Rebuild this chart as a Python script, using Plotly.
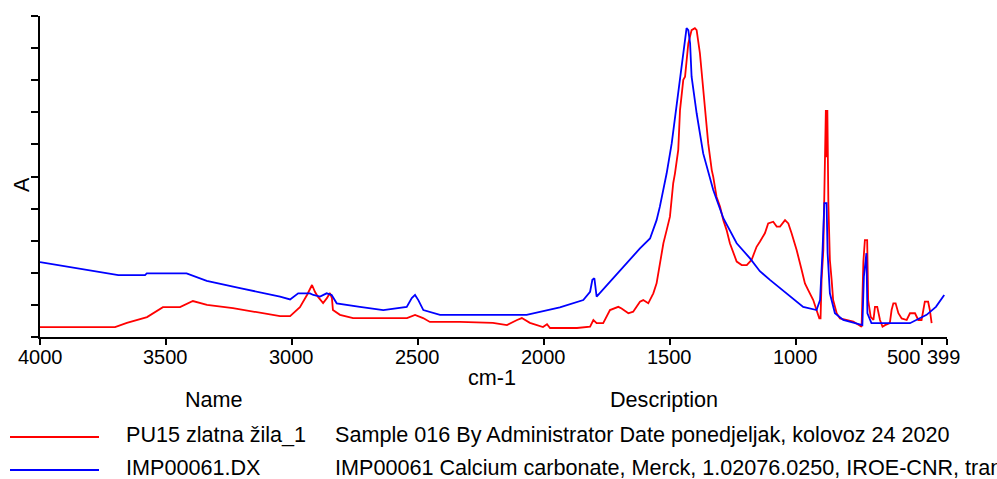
import plotly.graph_objects as go

# PU15 zlatna žila_1 — sample spectrum (wavenumber cm-1, absorbance, arbitrary units)
red_wn = [4000, 3702, 3655, 3575, 3512, 3444, 3393, 3337, 3234, 3127, 3047, 3007,
          2968, 2940, 2920, 2908, 2896, 2876, 2861, 2849, 2841, 2837, 2809, 2757,
          2543, 2511, 2479, 2452, 2333, 2202, 2146, 2106, 2087, 2055, 2003, 1987,
          1975, 1868, 1816, 1803, 1790, 1764, 1750, 1737, 1704, 1691, 1664, 1645,
          1618, 1605, 1585, 1565, 1552, 1545, 1532, 1525, 1512, 1499, 1486, 1479,
          1466, 1459, 1446, 1439, 1426, 1413, 1400, 1393, 1380, 1367, 1360, 1347,
          1333, 1327, 1314, 1300, 1287, 1274, 1261, 1248, 1234, 1214, 1194, 1175,
          1155, 1142, 1122, 1109, 1089, 1075, 1062, 1042, 1029, 1016, 996, 976,
          963, 950, 930, 917, 906, 901, 897, 890, 886, 880, 877, 874, 870, 864, 857,
          851, 837, 824, 771, 751, 738, 731, 725, 716, 712, 702, 691, 685, 676,
          665, 655, 645, 626, 619, 612, 603, 592, 579, 559, 546, 526, 513, 500,
          487, 474, 467, 460]
red_abs = [0.031, 0.031, 0.044, 0.062, 0.093, 0.093, 0.112, 0.100, 0.090, 0.075, 0.065, 0.065,
           0.093, 0.131, 0.162, 0.140, 0.125, 0.106, 0.121, 0.137, 0.121, 0.084, 0.069, 0.059,
           0.059, 0.069, 0.059, 0.047, 0.047, 0.044, 0.037, 0.053, 0.059, 0.044, 0.031, 0.040,
           0.028, 0.028, 0.032, 0.053, 0.043, 0.043, 0.063, 0.084, 0.094, 0.089, 0.074, 0.079,
           0.110, 0.115, 0.105, 0.136, 0.167, 0.198, 0.250, 0.292, 0.333, 0.375, 0.479, 0.510,
           0.583, 0.707, 0.801, 0.811, 0.915, 0.956, 0.962, 0.956, 0.884, 0.780, 0.707, 0.603,
           0.520, 0.499, 0.437, 0.406, 0.364, 0.333, 0.292, 0.261, 0.235, 0.224, 0.224, 0.240,
           0.281, 0.297, 0.323, 0.354, 0.359, 0.344, 0.344, 0.364, 0.354, 0.323, 0.271, 0.209,
           0.167, 0.146, 0.115, 0.084, 0.058, 0.058, 0.178, 0.271, 0.499, 0.707, 0.560, 0.707, 0.417,
           0.240, 0.178, 0.115, 0.074, 0.058, 0.048, 0.037, 0.032, 0.235, 0.302, 0.302, 0.115,
           0.063, 0.053, 0.094, 0.094, 0.053, 0.032, 0.037, 0.043, 0.084, 0.105, 0.105, 0.074,
           0.058, 0.053, 0.074, 0.074, 0.053, 0.053, 0.110, 0.110, 0.084, 0.043]

# IMP00061.DX — calcium carbonate reference spectrum
blue_wn = [4000, 3868, 3689, 3583, 3576, 3418, 3338, 3206, 3047, 3007, 2975, 2928,
           2915, 2888, 2862, 2842, 2822, 2730, 2637, 2544, 2524, 2511, 2498, 2478,
           2412, 2068, 1988, 1936, 1843, 1816, 1807, 1799, 1790, 1737, 1671, 1618,
           1578, 1552, 1539, 1512, 1492, 1472, 1459, 1446, 1433, 1426, 1419, 1413,
           1406, 1393, 1367, 1327, 1287, 1234, 1181, 1142, 1102, 1036, 970, 917,
           903, 893, 886, 877, 873, 864, 844, 811, 745, 735, 729, 719, 715, 699,
           546, 480, 443, 410]
blue_abs = [0.233, 0.217, 0.193, 0.193, 0.198, 0.198, 0.175, 0.152, 0.126, 0.117, 0.136, 0.136,
            0.131, 0.126, 0.136, 0.131, 0.105, 0.094, 0.084, 0.094, 0.121, 0.131, 0.115, 0.084,
            0.069, 0.069, 0.084, 0.092, 0.115, 0.141, 0.178, 0.183, 0.126, 0.172, 0.229, 0.276,
            0.307, 0.364, 0.406, 0.510, 0.603, 0.728, 0.811, 0.894, 0.962, 0.956, 0.915, 0.811,
            0.769, 0.697, 0.572, 0.458, 0.370, 0.292, 0.245, 0.205, 0.178, 0.136, 0.094, 0.084,
            0.115, 0.271, 0.417, 0.417, 0.261, 0.136, 0.074, 0.053, 0.037, 0.037, 0.188, 0.261,
            0.074, 0.043, 0.043, 0.069, 0.094, 0.131]

x_ticks = [4000, 3500, 3000, 2500, 2000, 1500, 1000, 500, 399]
x_tick_text = ["4000", "3500", "3000", "2500", "2000", "1500", "1000", "500", "399"]
y_ticks = [i / 10 for i in range(11)]

series_names = ["PU15 zlatna žila_1", "IMP00061.DX"]
series_desc = [
    "Sample 016 By Administrator Date ponedjeljak, kolovoz 24 2020",
    "IMP00061 Calcium carbonate, Merck, 1.02076.0250, IROE-CNR, transmission",
]
series_colors = ["#ff0000", "#0000ff"]

FONT = "Liberation Sans, Arial, sans-serif"
TXT = 21.6
LW = 1.8
W, H = 997, 479
L, R, T, B = 40, 50, 16, 142
PW, PH = W - L - R, H - T - B


def px(x):
    return (x - L) / PW


def py(y):
    return (H - B - y) / PH


fig = go.Figure()
fig.add_trace(go.Scatter(x=red_wn, y=red_abs, mode="lines",
                         line=dict(color=series_colors[0], width=LW), name=series_names[0]))
fig.add_trace(go.Scatter(x=blue_wn, y=blue_abs, mode="lines",
                         line=dict(color=series_colors[1], width=LW), name=series_names[1]))

annotations = [
    dict(text="cm-1", x=px(492), y=py(378), xref="paper", yref="paper",
         xanchor="center", yanchor="middle", showarrow=False, font=dict(size=TXT)),
    dict(text="A", x=px(22), y=py(185), xref="paper", yref="paper", textangle=-90,
         xanchor="center", yanchor="middle", showarrow=False, font=dict(size=TXT)),
    dict(text="Name", x=px(214), y=py(400), xref="paper", yref="paper",
         xanchor="center", yanchor="middle", showarrow=False, font=dict(size=TXT)),
    dict(text="Description", x=px(664), y=py(400), xref="paper", yref="paper",
         xanchor="center", yanchor="middle", showarrow=False, font=dict(size=TXT)),
]

# the two crowded labels at the right end are nudged apart, the rest sit on their ticks
tick_shift = {"500": -18, "399": -4}
for val, lab in zip(x_ticks, x_tick_text):
    annotations.append(dict(text=lab, x=val, xref="x", y=py(357), yref="paper",
                            xshift=tick_shift.get(lab, 0), xanchor="center",
                            yanchor="middle", showarrow=False, font=dict(size=20)))

shapes = []
row_y = [434, 467]
for i in range(2):
    annotations.append(dict(text=series_names[i], x=px(124), y=py(row_y[i]), xref="paper",
                            yref="paper", xanchor="left", yanchor="middle", showarrow=False,
                            font=dict(size=TXT)))
    annotations.append(dict(text=series_desc[i], x=px(333), y=py(row_y[i]), xref="paper",
                            yref="paper", xanchor="left", yanchor="middle", showarrow=False,
                            font=dict(size=TXT)))
    shapes.append(dict(type="line", xref="paper", yref="paper",
                       x0=px(10), x1=px(99), y0=py(row_y[i] + 3), y1=py(row_y[i] + 3),
                       line=dict(color=series_colors[i], width=LW)))

fig.update_layout(
    width=W, height=H,
    margin=dict(l=L, r=R, t=T, b=B, pad=0),
    paper_bgcolor="white", plot_bgcolor="white",
    showlegend=False,
    font=dict(family=FONT, color="black", size=20),
    annotations=annotations,
    shapes=shapes,
    xaxis=dict(range=[4000, 399], tickvals=x_ticks, showticklabels=False,
               ticks="outside", ticklen=6, tickwidth=1.5, tickcolor="black",
               showline=True, linecolor="black", linewidth=1.5,
               showgrid=False, zeroline=False),
    yaxis=dict(range=[0, 1], tickvals=y_ticks, showticklabels=False,
               ticks="outside", ticklen=7, tickwidth=1.5, tickcolor="black",
               showline=True, linecolor="black", linewidth=1.5,
               showgrid=False, zeroline=False),
)

fig.write_html("out.html")
